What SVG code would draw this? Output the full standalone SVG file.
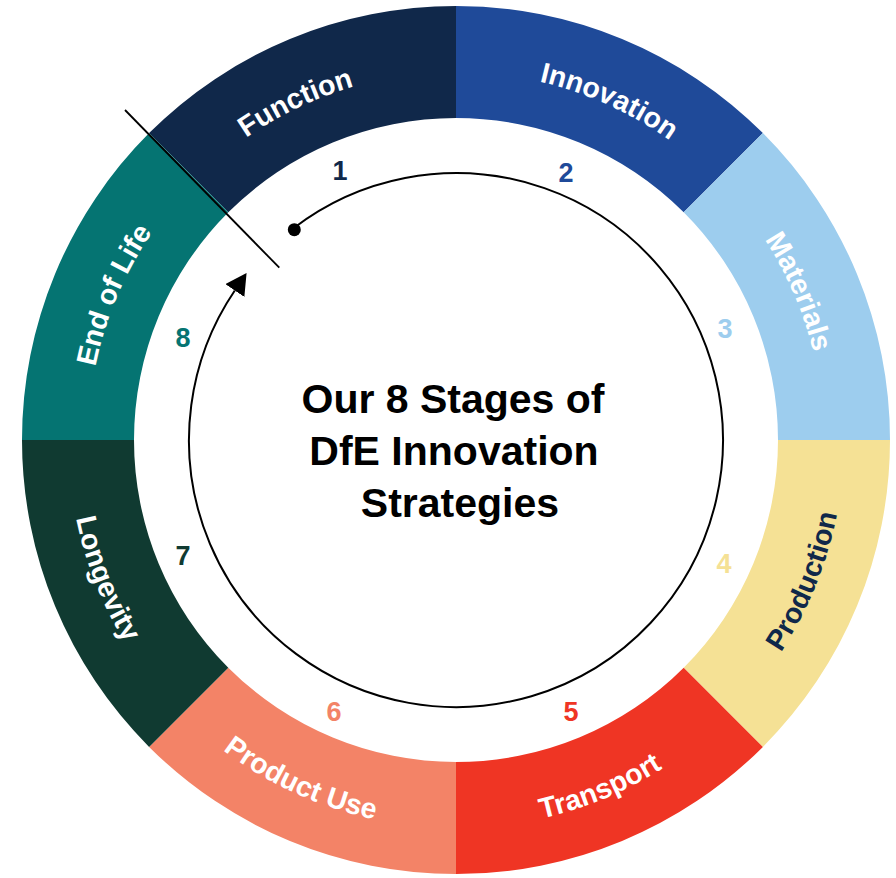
<svg xmlns="http://www.w3.org/2000/svg" xmlns:xlink="http://www.w3.org/1999/xlink" width="896" height="878" viewBox="0 0 896 878">
<style>
text{font-family:"Liberation Sans",Arial,Helvetica,sans-serif;font-weight:bold}
.lbl{font-size:28.5px;fill:#ffffff}
.num{font-size:27px;text-anchor:middle}
.title{font-size:41px;fill:#000000;text-anchor:middle}
.ln{fill:none;stroke:#000000}
</style>
<defs>
<marker id="arrow" viewBox="0 0 21 23" markerWidth="21" markerHeight="23" refX="0" refY="11.5" orient="auto" markerUnits="userSpaceOnUse">
<path d="M0,0 L21,11.5 L0,23 Z" fill="#000000"/>
</marker>
<path id="p1" d="M195.8,179.8 A368,368 0 0 1 456,72"/>
<path id="p2" d="M456,72 A368,368 0 0 1 716.2,179.8"/>
<path id="p3" d="M716.2,179.8 A368,368 0 0 1 824,440"/>
<path id="p4" d="M730.4,714.4 A388,388 0 0 0 844,440"/>
<path id="p5" d="M456,828 A388,388 0 0 0 730.4,714.4"/>
<path id="p6" d="M181.6,714.4 A388,388 0 0 0 456,828"/>
<path id="p7" d="M68,440 A388,388 0 0 0 181.6,714.4"/>
<path id="p8" d="M88,440 A368,368 0 0 1 195.8,179.8"/>
</defs>
<rect width="896" height="878" fill="#ffffff"/>

<g id="function">
<path d="M149.12,133.12 A434,434 0 0 1 456,6 L456,118 A322,322 0 0 0 228.31,212.31 Z" fill="#10284A"/>
<text class="lbl"><textPath xlink:href="#p1" href="#p1" startOffset="43.5%" text-anchor="middle">Function</textPath></text>
<text class="num" x="340" y="180" fill="#10284A">1</text>
</g>
<g id="innovation">
<path d="M456,6 A434,434 0 0 1 762.88,133.12 L683.69,212.31 A322,322 0 0 0 456,118 Z" fill="#1F4A99"/>
<text class="lbl"><textPath xlink:href="#p2" href="#p2" startOffset="54%" text-anchor="middle">Innovation</textPath></text>
<text class="num" x="566" y="182" fill="#1F4A99">2</text>
</g>
<g id="materials">
<path d="M762.88,133.12 A434,434 0 0 1 890,440 L778,440 A322,322 0 0 0 683.69,212.31 Z" fill="#9DCDEE"/>
<text class="lbl"><textPath xlink:href="#p3" href="#p3" startOffset="48%" text-anchor="middle">Materials</textPath></text>
<text class="num" x="725" y="338" fill="#9DCDEE">3</text>
</g>
<g id="production">
<path d="M890,440 A434,434 0 0 1 762.88,746.88 L683.69,667.69 A322,322 0 0 0 778,440 Z" fill="#F5E195"/>
<text class="lbl" style="fill:#10284A"><textPath xlink:href="#p4" href="#p4" startOffset="51%" text-anchor="middle">Production</textPath></text>
<text class="num" x="724" y="573" fill="#F5E195">4</text>
</g>
<g id="transport">
<path d="M762.88,746.88 A434,434 0 0 1 456,874 L456,762 A322,322 0 0 0 683.69,667.69 Z" fill="#EF3524"/>
<text class="lbl"><textPath xlink:href="#p5" href="#p5" startOffset="50%" text-anchor="middle">Transport</textPath></text>
<text class="num" x="571" y="721" fill="#EF3524">5</text>
</g>
<g id="product-use">
<path d="M456,874 A434,434 0 0 1 149.12,746.88 L228.31,667.69 A322,322 0 0 0 456,762 Z" fill="#F38367"/>
<text class="lbl"><textPath xlink:href="#p6" href="#p6" startOffset="45.5%" text-anchor="middle">Product Use</textPath></text>
<text class="num" x="334" y="721" fill="#F38367">6</text>
</g>
<g id="longevity">
<path d="M149.12,746.88 A434,434 0 0 1 22,440 L134,440 A322,322 0 0 0 228.31,667.69 Z" fill="#103A31"/>
<text class="lbl"><textPath xlink:href="#p7" href="#p7" startOffset="48%" text-anchor="middle">Longevity</textPath></text>
<text class="num" x="183" y="565" fill="#103A31">7</text>
</g>
<g id="end-of-life">
<path d="M22,440 A434,434 0 0 1 149.12,133.12 L228.31,212.31 A322,322 0 0 0 134,440 Z" fill="#057472"/>
<text class="lbl"><textPath xlink:href="#p8" href="#p8" startOffset="51%" text-anchor="middle">End of Life</textPath></text>
<text class="num" x="183" y="347" fill="#057472">8</text>
</g>

<g id="center-title">
<text class="title" x="453" y="413">Our 8 Stages of</text>
<text class="title" x="454" y="465">DfE Innovation</text>
<text class="title" x="460" y="517">Strategies</text>
</g>

<g id="connectors">
<path class="ln" stroke-width="2" d="M293.1,228.5 A267,267 0 1 1 234.8,290.5" marker-end="url(#arrow)"/>
<circle cx="294.3" cy="229.7" r="6.5" fill="#000000"/>
<line class="ln" stroke-width="1.8" x1="125" y1="110" x2="279.3" y2="267.7"/>
</g>
</svg>
